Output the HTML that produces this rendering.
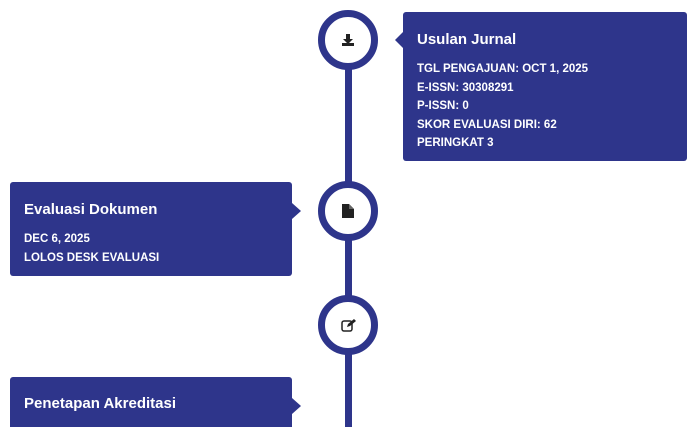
<!DOCTYPE html>
<html><head><style>
body{margin:0;width:694px;height:436px;background:#fff;position:relative;overflow:hidden;font-family:"Liberation Sans",Arial,sans-serif;}
.line{position:absolute;left:345px;top:60px;width:7px;height:367px;background:#2e358b;}
.c{position:absolute;width:46px;height:46px;border:7px solid #2e358b;border-radius:50%;background:#fff;display:flex;align-items:center;justify-content:center;}
.card{position:absolute;background:#2e358b;color:#fff;border-radius:3px;box-sizing:border-box;padding:0 14px;}
.card h3{margin:0;font-size:15px;font-weight:bold;}
.card p{margin:0;font-size:11.5px;font-weight:bold;line-height:18.5px;}
.al{position:absolute;left:-8px;width:0;height:0;border-top:8px solid transparent;border-bottom:8px solid transparent;border-right:8px solid #2e358b;}
.ar{position:absolute;right:-9px;width:0;height:0;border-top:8px solid transparent;border-bottom:8px solid transparent;border-left:9px solid #2e358b;}
</style></head><body>
<div class="line"></div>
<div class="c" style="left:318px;top:10px;"><svg width="14" height="14" viewBox="0 0 14 14"><path d="M5 1h4v5h3l-5 5-5-5h3z" fill="#222"/><rect x="1" y="10" width="12" height="3" fill="#222"/></svg></div>
<div class="c" style="left:318px;top:181px;"><svg width="12" height="14" viewBox="0 0 12 14"><path d="M0 0h7l5 5v9H0z" fill="#222"/><path d="M7 0v5h5" fill="#666"/></svg></div>
<div class="c" style="left:318px;top:295px;"><svg width="15" height="13" viewBox="0 0 15 13"><rect x="1" y="2" width="10" height="10" rx="2" fill="none" stroke="#222" stroke-width="1.5"/><path d="M6 8l1-3 6-5 2 2-6 5z" fill="#222"/></svg></div>
<div class="card" style="left:403px;top:12px;width:284px;height:149px;">
<div class="al" style="top:20px;"></div>
<h3 style="margin-top:19px;">Usulan Jurnal</h3>
<div style="height:12px"></div>
<p>TGL PENGAJUAN: OCT 1, 2025</p><p>E-ISSN: 30308291</p><p>P-ISSN: 0</p><p>SKOR EVALUASI DIRI: 62</p><p>PERINGKAT 3</p>
</div>
<div class="card" style="left:10px;top:182px;width:282px;height:94px;">
<div class="ar" style="top:21px;"></div>
<h3 style="margin-top:19px;">Evaluasi Dokumen</h3>
<div style="height:12px"></div>
<p>DEC 6, 2025</p><p>LOLOS DESK EVALUASI</p>
</div>
<div class="card" style="left:10px;top:377px;width:282px;height:50px;border-radius:3px 3px 0 0;">
<div class="ar" style="top:21px;"></div>
<h3 style="margin-top:18px;">Penetapan Akreditasi</h3>
</div>
</body></html>
